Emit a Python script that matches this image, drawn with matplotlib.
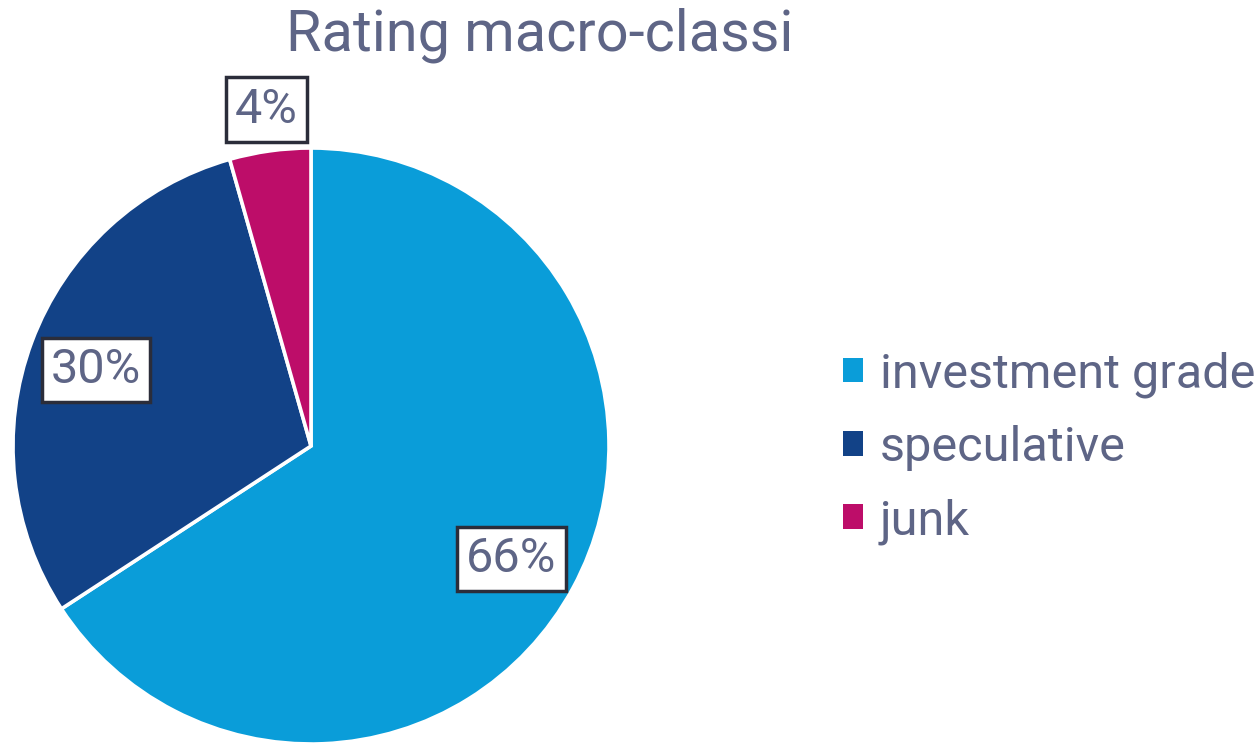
import numpy as np
import matplotlib.pyplot as plt

plt.rcParams['font.family'] = ['Roboto', 'DejaVu Sans']

### Data ########################################################################
labels = ['investment grade', 'speculative', 'junk']
values = [65.8, 29.8, 4.4]
pct_text = ['66%', '30%', '4%']
colors = ['#0A9DD9', '#124287', '#BD0D69']
label_dist = [0.765, 0.77, 1.155]

TEXT_COLOR = '#5E6586'

### Plot ########################################################################
fig = plt.figure(figsize=(12.55, 7.44), dpi=100)
ax = fig.add_axes([13 / 1255, 0.0, 596 / 1255, 596 / 744])

wedges, _ = ax.pie(values, colors=colors, startangle=90, counterclock=False,
                   radius=1.0, wedgeprops=dict(edgecolor='white', linewidth=2.6))
ax.set_xlim(-1, 1)
ax.set_ylim(-1, 1)
ax.set_aspect('equal')
ax.axis('off')

# percent boxes
for w, t, d in zip(wedges, pct_text, label_dist):
    ang = np.deg2rad((w.theta1 + w.theta2) / 2)
    ax.text(d * np.cos(ang) + (0.01 if d > 1 else 0), d * np.sin(ang) - 0.015, t,
            ha='center', va='center', fontsize=35, color=TEXT_COLOR, clip_on=False,
            bbox=dict(boxstyle='square,pad=0.19', fc='white', ec='#2B2D3A', lw=2.5))

fig.text(0.43, 0.952, 'Rating macro-classi', ha='center', va='center',
         fontsize=41.5, color=TEXT_COLOR)

leg = fig.legend(wedges, labels, loc='center left', bbox_to_anchor=(0.672, 0.398),
                 frameon=False, fontsize=35, handlelength=0.4, handleheight=0.4,
                 handletextpad=0.35, labelspacing=0.56, labelcolor=TEXT_COLOR,
                 borderpad=0, borderaxespad=0)
for h in leg.legend_handles:
    h.set_edgecolor('none')

fig.savefig('out.png', dpi=100)
